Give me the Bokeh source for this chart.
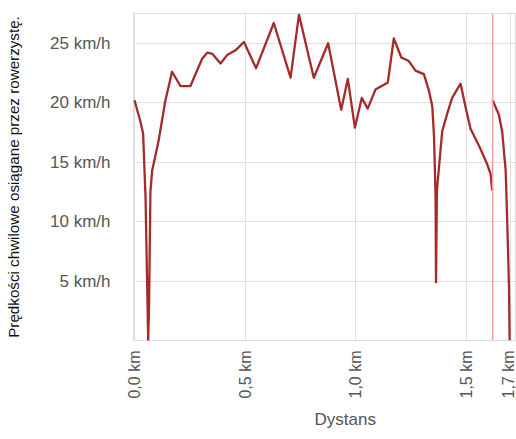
import math
from bokeh.plotting import figure
from bokeh.models import Range1d, FixedTicker, Span, Title
from bokeh.embed import file_html
from bokeh.resources import INLINE

# distance (km) and instantaneous speed (km/h), first segment
dist_a = [0.0, 0.027, 0.039, 0.05, 0.058, 0.062, 0.066, 0.072, 0.08, 0.109, 0.14,
          0.17, 0.208, 0.253, 0.306, 0.329, 0.353, 0.389, 0.419, 0.457, 0.495,
          0.55, 0.63, 0.706, 0.744, 0.811, 0.876, 0.935, 0.965, 0.997, 1.028,
          1.055, 1.09, 1.136, 1.146, 1.173, 1.207, 1.241, 1.271, 1.309, 1.332,
          1.347, 1.355, 1.362, 1.364, 1.368, 1.392, 1.415, 1.437, 1.475, 1.498,
          1.52, 1.558, 1.596, 1.611, 1.618]
speed_a = [20.2, 18.4, 17.4, 12.0, 4.0, 0.0, 3.0, 12.5, 14.3, 16.8, 20.2,
           22.6, 21.4, 21.4, 23.7, 24.2, 24.1, 23.3, 24.0, 24.4, 25.1,
           22.9, 26.7, 22.1, 27.4, 22.1, 25.0, 19.4, 22.0, 17.9, 20.4,
           19.5, 21.1, 21.6, 21.7, 25.4, 23.8, 23.5, 22.7, 22.4, 21.0,
           19.7, 17.1, 12.0, 4.9, 12.6, 17.6, 19.1, 20.4, 21.6, 19.6,
           17.8, 16.4, 14.8, 14.0, 12.6]

# second segment
dist_b = [1.62, 1.648, 1.663, 1.679, 1.686, 1.694, 1.697]
speed_b = [20.2, 19.0, 17.6, 14.3, 10.1, 4.5, 0.0]

marker_km = 1.62

x_ticks = [0.0, 0.5, 1.0, 1.5, 1.7]
x_tick_labels = ["0,0 km", "0,5 km", "1,0 km", "1,5 km", "1,7 km"]
y_ticks = [5, 10, 15, 20, 25]
y_tick_labels = ["5 km/h", "10 km/h", "15 km/h", "20 km/h", "25 km/h"]

p = figure(width=516, height=439, output_backend="svg", toolbar_location=None,
           x_range=Range1d(-0.0045, 1.728), y_range=Range1d(0, 27.5),
           min_border_left=133, min_border_right=0, min_border_top=13,
           min_border_bottom=99)
p.outline_line_color = "#dcdcdc"
p.background_fill_color = "white"
p.border_fill_color = "white"

grid_color = "#e0e0e0"
p.xgrid.grid_line_color = grid_color
p.ygrid.grid_line_color = grid_color

p.xaxis.ticker = FixedTicker(ticks=x_ticks)
p.xaxis.major_label_overrides = {t: l for t, l in zip(x_ticks, x_tick_labels)}
p.yaxis.ticker = FixedTicker(ticks=y_ticks)
p.yaxis.major_label_overrides = {t: l for t, l in zip(y_ticks, y_tick_labels)}

for ax in (p.xaxis[0], p.yaxis[0]):
    ax.axis_line_color = None
    ax.major_tick_line_color = None
    ax.minor_tick_line_color = None
    ax.major_tick_out = 0
    ax.major_tick_in = 0
    ax.major_label_text_font = "Liberation Sans"
    ax.major_label_text_color = "#555555"

p.xaxis.major_label_text_font_size = "16px"
p.yaxis.major_label_text_font_size = "17px"
p.xaxis.major_label_orientation = math.pi / 2
p.xaxis.major_label_standoff = 10
p.yaxis.major_label_standoff = 23

p.yaxis.axis_label = "Prędkości chwilowe osiągane przez rowerzystę."
p.yaxis.axis_label_text_font = "Liberation Sans"
p.yaxis.axis_label_text_font_style = "normal"
p.yaxis.axis_label_text_font_size = "15.2px"
p.yaxis.axis_label_text_color = "#111111"
p.yaxis.axis_label_standoff = 25

p.add_layout(Title(text="Dystans", align="left", offset=181, standoff=13,
                   text_font="Liberation Sans", text_font_size="17px",
                   text_font_style="normal", text_color="#555555"), "below")

p.add_layout(Span(location=marker_km, dimension="height",
                  line_color="#f2a0a0", line_width=1.5))

line_color = "#a52a2a"
p.line(dist_a, speed_a, line_color=line_color, line_width=2.3, line_join="round")
p.line(dist_b, speed_b, line_color=line_color, line_width=2.3, line_join="round")

open("out.html", "w").write(file_html(p, INLINE))
